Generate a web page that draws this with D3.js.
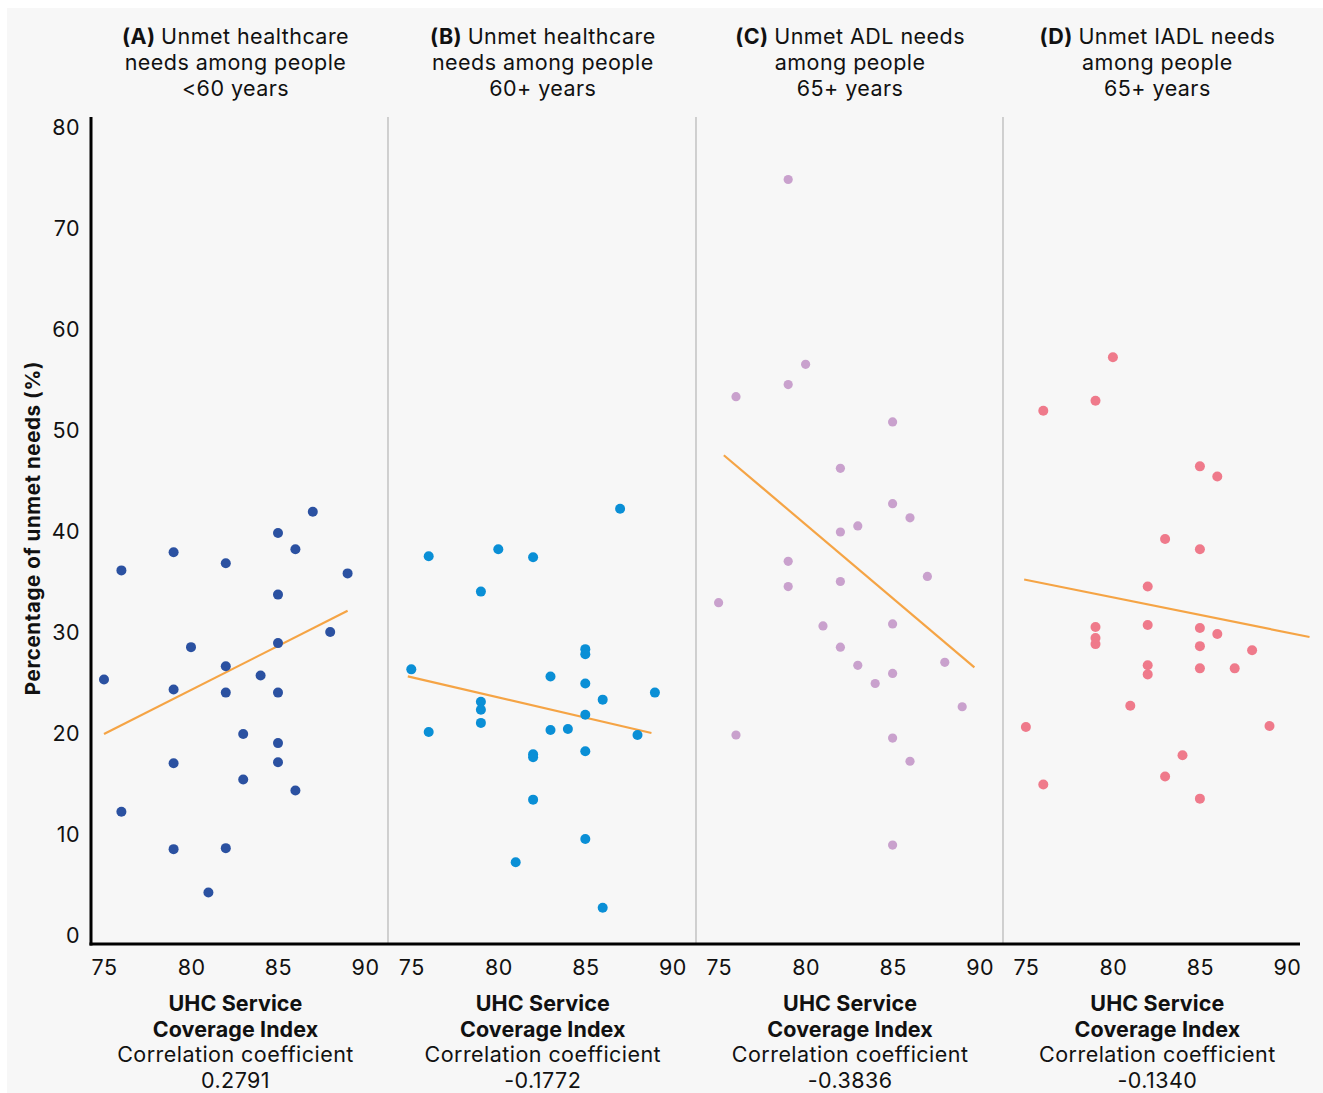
<!DOCTYPE html>
<html><head><meta charset="utf-8">
<script src="https://cdn.jsdelivr.net/npm/d3@7"></script>
<style>
html,body{margin:0;padding:0;background:#fff;}
svg{display:block;font-family:Inter,"Noto Sans",sans-serif;}
</style></head>
<body><svg id="c" width="1323" height="1093"></svg>
<script>
// ---- data ----
const panelLetters = ["(A)", "(B)", "(C)", "(D)"];
const panelTitles = [
  ["Unmet healthcare", "needs among people", "<60 years"],
  ["Unmet healthcare", "needs among people", "60+ years"],
  ["Unmet ADL needs", "among people", "65+ years"],
  ["Unmet IADL needs", "among people", "65+ years"]
];
const correlations = ["0.2791", "-0.1772", "-0.3836", "-0.1340"];
const xTicks = [75, 80, 85, 90];
const yTicks = [0, 10, 20, 30, 40, 50, 60, 70, 80];
const yLabel = "Percentage of unmet needs (%)";
const xLabel = ["UHC Service", "Coverage Index"];
const corrLabel = "Correlation coefficient";

const panelA_x = [87,85,86,79,76,82,89,85,88,80,85,82,84,75,79,82,85,83,85,79,85,83,86,76,79,82,81];
const panelA_y = [42.0,39.9,38.3,38.0,36.2,36.9,35.9,33.8,30.1,28.6,29.0,26.7,25.8,25.4,24.4,24.1,24.1,20.0,19.1,17.1,17.2,15.5,14.4,12.3,8.6,8.7,4.3];
const panelB_x = [87,76,80,82,79,85,85,75,83,85,89,86,79,79,85,79,76,83,84,88,85,82,82,82,85,81,86];
const panelB_y = [42.3,37.6,38.3,37.5,34.1,28.4,27.9,26.4,25.7,25.0,24.1,23.4,23.2,22.4,21.9,21.1,20.2,20.4,20.5,19.9,18.3,18.0,17.7,13.5,9.6,7.3,2.8];
const panelC_x = [79,80,79,76,85,82,85,86,83,82,79,79,82,87,75,81,85,82,83,88,85,84,89,76,85,86,85];
const panelC_y = [74.9,56.6,54.6,53.4,50.9,46.3,42.8,41.4,40.6,40.0,37.1,34.6,35.1,35.6,33.0,30.7,30.9,28.6,26.8,27.1,26.0,25.0,22.7,19.9,19.6,17.3,9.0];
const panelD_x = [80,79,76,85,86,83,85,82,79,82,85,86,79,79,85,88,82,82,85,87,81,75,89,84,83,76,85];
const panelD_y = [57.3,53.0,52.0,46.5,45.5,39.3,38.3,34.6,30.6,30.8,30.5,29.9,29.5,28.9,28.7,28.3,26.8,25.9,26.5,26.5,22.8,20.7,20.8,17.9,15.8,15.0,13.6];
const trendX = [[75, 89], [74.8, 88.8], [75.3, 89.7], [74.9, 91.3]];
const trendY = [[20.0, 32.2], [25.7, 20.1], [47.6, 26.6], [35.3, 29.6]];
const dotColors = ["#2b51a1", "#0a8fd6", "#c9a1cd", "#ef7a8b"];
const trendColor = "#f5a445";

// ---- drawing ----
const FS = 21.5, LS = 0.45;
const svg = d3.select("#c");
svg.append("rect").attr("x", 7).attr("y", 8).attr("width", 1316).attr("height", 1085).attr("fill", "#f7f7f7");

const y = d3.scaleLinear().domain([0, 80]).range([936, 128]);
const panelW = 307.3;
const xs = [0,1,2,3].map(i => d3.scaleLinear().domain([75, 90]).range([104 + i*panelW, 365 + i*panelW]));
const xsData = [panelA_x, panelB_x, panelC_x, panelD_x];
const ysData = [panelA_y, panelB_y, panelC_y, panelD_y];

// dividers
[388, 696, 1003].forEach(px => {
  svg.append("line").attr("x1", px).attr("x2", px).attr("y1", 117).attr("y2", 944)
    .attr("stroke", "#b5b5b5").attr("stroke-width", 1.2);
});

// y axis
const yAxisG = svg.append("g").attr("transform", "translate(80,0)")
  .call(d3.axisLeft(y).tickValues(yTicks).tickSize(0).tickPadding(0));
yAxisG.select(".domain").remove();
yAxisG.selectAll("text").attr("font-size", FS).attr("letter-spacing", LS).attr("fill", "#111").attr("font-family", "Inter, sans-serif");

svg.append("line").attr("x1", 91).attr("x2", 91).attr("y1", 117).attr("y2", 945.5)
  .attr("stroke", "#000").attr("stroke-width", 3);
svg.append("line").attr("x1", 89.5).attr("x2", 1300).attr("y1", 944).attr("y2", 944)
  .attr("stroke", "#000").attr("stroke-width", 3);

svg.append("text").attr("transform", "translate(40,528) rotate(-90)")
  .attr("text-anchor", "middle").attr("font-size", 20.5).attr("letter-spacing", 0.6).attr("font-weight", 700).attr("fill", "#111")
  .text(yLabel);

for (let i = 0; i < 4; i++) {
  const x = xs[i];
  const cx = (x.range()[0] + x.range()[1]) / 2;
  // x axis ticks
  const g = svg.append("g").attr("transform", "translate(0,944)")
    .call(d3.axisBottom(x).tickValues(xTicks).tickSize(0).tickPadding(0));
  g.select(".domain").remove();
  g.selectAll("text").attr("font-size", FS).attr("letter-spacing", LS).attr("fill", "#111").attr("font-family", "Inter, sans-serif")
    .attr("y", 31).attr("dy", 0);

  // titles
  const t = svg.append("text").attr("text-anchor", "middle").attr("font-size", FS).attr("letter-spacing", LS).attr("fill", "#111");
  panelTitles[i].forEach((ln, j) => {
    const ts = t.append("tspan").attr("x", cx + 1).attr("y", 44 + j*26);
    if (j === 0) {
      ts.append("tspan").attr("font-weight", 700).text(panelLetters[i] + " ");
      ts.append("tspan").text(ln);
    } else ts.text(ln);
  });

  // bottom labels
  const b = svg.append("text").attr("text-anchor", "middle").attr("font-size", FS).attr("letter-spacing", LS).attr("fill", "#111");
  xLabel.forEach((ln, j) => {
    b.append("tspan").attr("x", cx + 1).attr("y", 1011 + j*25.5).attr("font-weight", 700).attr("letter-spacing", 0.1).text(ln);
  });
  b.append("tspan").attr("x", cx + 1).attr("y", 1062).text(corrLabel);
  b.append("tspan").attr("x", cx + 1).attr("y", 1087.5).text(correlations[i]);

  // trend
  svg.append("line")
    .attr("x1", x(trendX[i][0])).attr("y1", y(trendY[i][0]))
    .attr("x2", x(trendX[i][1])).attr("y2", y(trendY[i][1]))
    .attr("stroke", trendColor).attr("stroke-width", 2.2);

  // dots
  svg.append("g").selectAll("circle").data(d3.range(xsData[i].length)).join("circle")
    .attr("cx", k => x(xsData[i][k])).attr("cy", k => y(ysData[i][k]))
    .attr("r", i === 2 ? 4.6 : 5).attr("fill", dotColors[i]);
}
</script></body></html>
